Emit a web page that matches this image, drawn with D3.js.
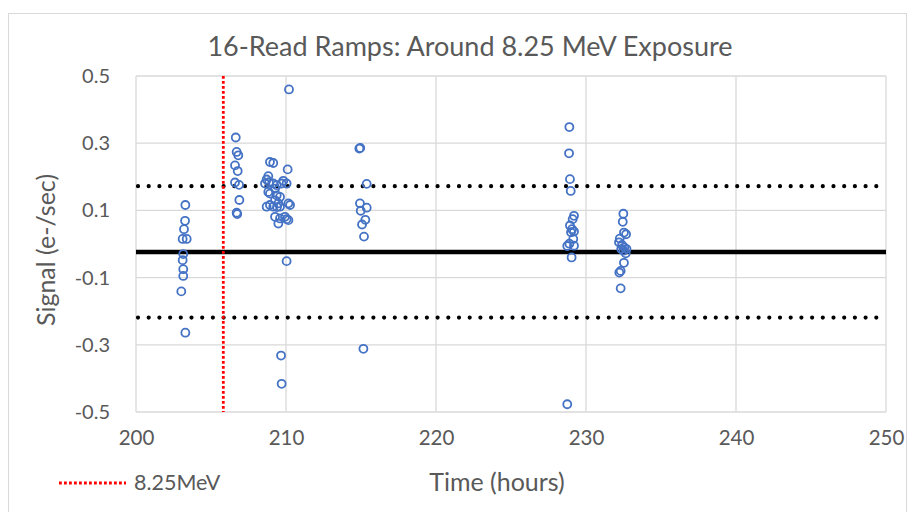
<!DOCTYPE html>
<html>
<head>
<meta charset="utf-8">
<script src="https://cdn.jsdelivr.net/npm/d3@7"></script>
<style>
  body { margin: 0; background: #fff; }
  svg { display: block; font-family: Lato, "Open Sans", sans-serif; }
</style>
</head>
<body>
<svg id="chart"></svg>
<script>
// data
const times = [
  203.29, 203.27, 203.20, 203.11, 203.38, 203.15, 203.11, 203.15, 203.15, 203.02, 203.29,
  206.65, 206.71, 206.82, 206.60, 206.78, 206.60, 206.87, 206.89, 206.71, 206.75,
  208.93, 209.15, 210.11, 208.82, 208.71, 208.87, 208.60, 209.15, 209.38, 209.71, 210.04, 209.82,
  208.82, 209.27, 208.93, 209.38, 209.60, 209.27, 209.49, 210.16, 208.93, 209.15, 208.71, 209.40,
  209.60, 210.27, 209.27, 209.60, 209.93, 210.16, 209.49, 210.04, 210.04, 209.67, 209.71, 210.20,
  214.89, 214.95, 215.38, 214.93, 215.38, 214.98, 215.29, 215.07, 215.20, 215.16,
  228.89, 228.87, 228.93, 228.98, 229.20, 229.11, 228.93, 229.07, 229.00, 229.20, 229.15, 228.89,
  228.75, 229.20, 229.04, 228.75,
  232.49, 232.45, 232.53, 232.67, 232.25, 232.20, 232.40, 232.55, 232.70, 232.50, 232.35, 232.65,
  232.53, 232.31, 232.22, 232.31
];
const signals = [
  0.116, 0.069, 0.044, 0.015, 0.015, -0.030, -0.048, -0.075, -0.095, -0.141, -0.264,
  0.317, 0.274, 0.264, 0.234, 0.217, 0.183, 0.176, 0.131, 0.093, 0.089,
  0.244, 0.241, 0.222, 0.202, 0.192, 0.184, 0.180, 0.180, 0.175, 0.180, 0.180, 0.188,
  0.155, 0.165, 0.150, 0.145, 0.140, 0.130, 0.121, 0.121, 0.116, 0.111, 0.111, 0.110,
  0.111, 0.116, 0.081, 0.076, 0.081, 0.071, 0.061, 0.074, -0.051, -0.332, -0.416, 0.460,
  0.284, 0.286, 0.179, 0.121, 0.108, 0.099, 0.072, 0.058, 0.022, -0.312,
  0.348, 0.270, 0.193, 0.158, 0.084, 0.074, 0.055, 0.044, 0.035, 0.037, 0.015, 0.001,
  -0.006, -0.005, -0.040, -0.477,
  0.090, 0.066, 0.034, 0.029, 0.016, 0.005, -0.003, -0.010, -0.015, -0.020, -0.015, -0.028,
  -0.056, -0.080, -0.085, -0.132
];
const meanSignal = -0.024;
const limitSignals = [0.172, -0.219];
const exposureTime = 205.82;
const xTicks = [200, 210, 220, 230, 240, 250];
const yTicks = [0.5, 0.3, 0.1, -0.1, -0.3, -0.5];

const W = 918, H = 512;
const m = { left: 136, right: 32, top: 76, bottom: 100 };

const svg = d3.select("#chart").attr("width", W).attr("height", H);

// outer chart border
svg.append("rect")
  .attr("x", 8.5).attr("y", 13.5).attr("width", 898).attr("height", 520)
  .attr("fill", "none").attr("stroke", "#d9d9d9");

const x = d3.scaleLinear().domain([200, 250]).range([m.left, W - m.right]);
const y = d3.scaleLinear().domain([-0.5, 0.5]).range([H - m.bottom, m.top]);

// gridlines
svg.append("g").selectAll("line").data(xTicks).join("line")
  .attr("x1", d => x(d)).attr("x2", d => x(d))
  .attr("y1", y(0.5)).attr("y2", y(-0.5))
  .attr("stroke", "#d9d9d9").attr("stroke-width", 1.3);
svg.append("g").selectAll("line").data(yTicks).join("line")
  .attr("x1", x(200)).attr("x2", x(250))
  .attr("y1", d => y(d)).attr("y2", d => y(d))
  .attr("stroke", "#d9d9d9").attr("stroke-width", 1.3);

// axes labels
const xAxis = svg.append("g")
  .attr("transform", `translate(0,${y(-0.5) + 14})`)
  .call(d3.axisBottom(x).tickValues(xTicks).tickSize(0).tickFormat(d3.format("d")));
xAxis.select(".domain").remove();
xAxis.selectAll("text").attr("font-size", 20.5).attr("fill", "#595959")
  .attr("font-family", "Lato, sans-serif").attr("dy", "0.8em");

const yAxis = svg.append("g")
  .attr("transform", `translate(${x(200) - 23},0)`)
  .call(d3.axisLeft(y).tickValues(yTicks).tickSize(0));
yAxis.select(".domain").remove();
yAxis.selectAll("text").attr("font-size", 20).attr("fill", "#595959")
  .attr("font-family", "Lato, sans-serif").attr("text-anchor", "end");
yAxis.selectAll("text").text(d => d < 0 ? "-" + Math.abs(d).toFixed(1) : d.toFixed(1));

// mean and limit lines
svg.append("line")
  .attr("x1", x(200)).attr("x2", x(250))
  .attr("y1", y(meanSignal)).attr("y2", y(meanSignal))
  .attr("stroke", "#000").attr("stroke-width", 4.5);
svg.append("g").selectAll("line").data(limitSignals).join("line")
  .attr("x1", x(200) + 2).attr("x2", x(250))
  .attr("y1", d => y(d)).attr("y2", d => y(d))
  .attr("stroke", "#000").attr("stroke-width", 4.2)
  .attr("stroke-linecap", "round").attr("stroke-dasharray", "0,10.7");

// exposure marker
svg.append("line")
  .attr("x1", x(exposureTime)).attr("x2", x(exposureTime))
  .attr("y1", y(0.5)).attr("y2", y(-0.5))
  .attr("stroke", "#ff0000").attr("stroke-width", 2.8)
  .attr("stroke-dasharray", "2.8,2.2");

// data points
svg.append("g").selectAll("circle").data(times.map((t, i) => [t, signals[i]])).join("circle")
  .attr("cx", d => x(d[0])).attr("cy", d => y(d[1]))
  .attr("r", 4).attr("fill", "none")
  .attr("stroke", "#4472c4").attr("stroke-width", 1.8);

// title
svg.append("text")
  .attr("x", 470).attr("y", 56).attr("text-anchor", "middle")
  .attr("font-size", 27).attr("fill", "#595959")
  .text("16-Read Ramps: Around 8.25 MeV Exposure");

// axis titles
svg.append("text")
  .attr("x", 497).attr("y", 491).attr("text-anchor", "middle")
  .attr("font-size", 25).attr("fill", "#595959")
  .text("Time (hours)");
svg.append("text")
  .attr("transform", "translate(55,250) rotate(-90)")
  .attr("text-anchor", "middle")
  .attr("font-size", 25).attr("fill", "#595959")
  .text("Signal (e-/sec)");

// legend
svg.append("line")
  .attr("x1", 59).attr("x2", 126).attr("y1", 483).attr("y2", 483)
  .attr("stroke", "#ff0000").attr("stroke-width", 2.8)
  .attr("stroke-dasharray", "2.8,2.2");
svg.append("text")
  .attr("x", 134).attr("y", 490)
  .attr("font-size", 21.5).attr("fill", "#595959")
  .text("8.25MeV");
</script>
</body>
</html>
